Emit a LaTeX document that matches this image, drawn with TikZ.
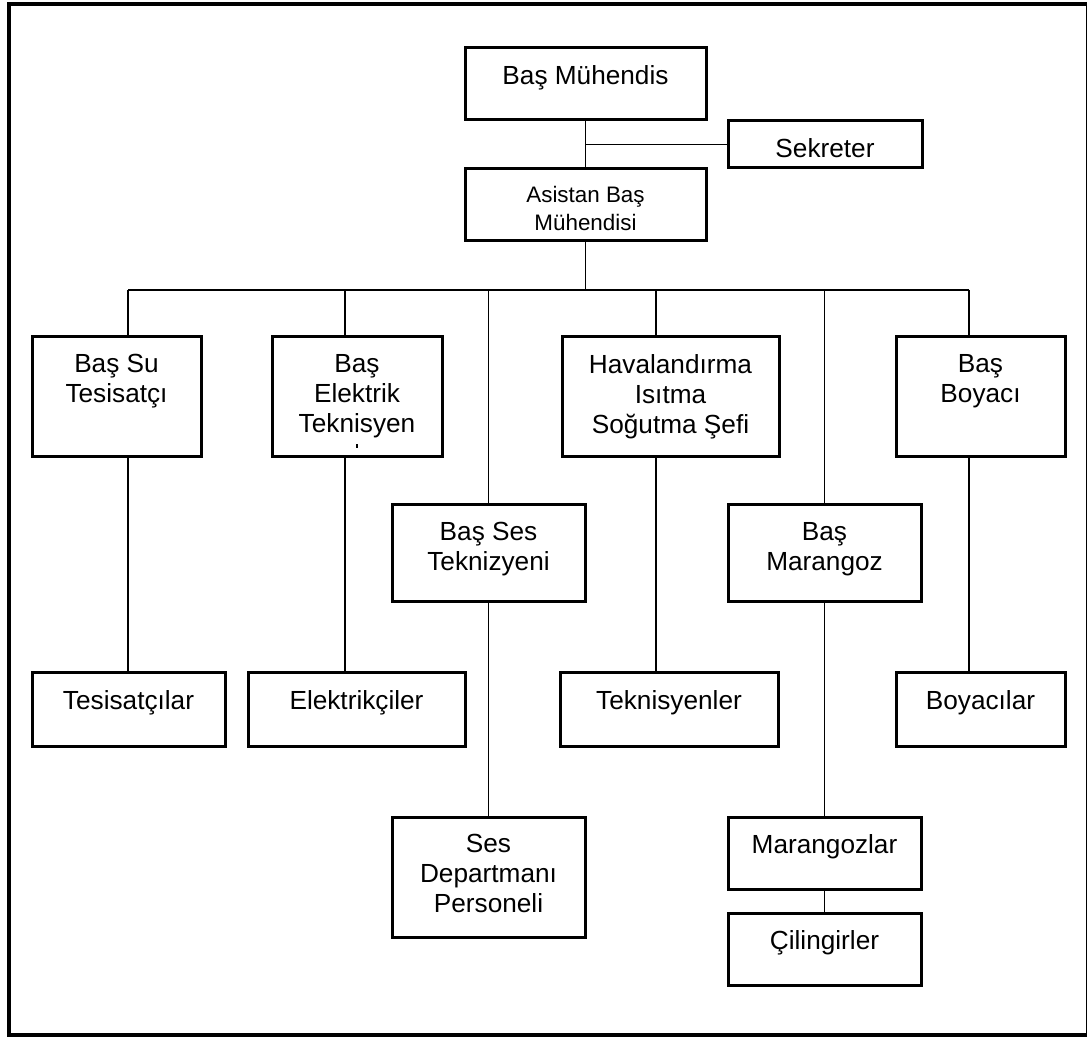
\documentclass[tikz,border=0pt]{standalone}
\usepackage{fontspec}
\setmainfont{Liberation Sans}
\tikzset{
  x=0.5pt, y=-0.5pt,
  box/.style={draw, line width=1.5pt, rectangle, inner sep=0pt},
  txt/.style={inner sep=0pt, align=center, font=\fontsize{13.1}{15}\selectfont},
  smalltxt/.style={inner sep=0pt, align=center, font=\fontsize{11.2}{13.7}\selectfont},
  conn/.style={line width=0.95pt},
  frame/.style={line width=2pt}
}
\newcommand{\orgbox}[7][txt]{%
  \node[box, minimum width={(#5-#3)*0.5pt}, minimum height={(#6-#4)*0.5pt}] (#2) at ({(#3+#5)/2},{(#4+#6)/2}) {};
  \node[#1, anchor=north] (#2-t) at ([yshift=-9.3pt]#2.north) {#7};
}
\begin{document}
\begin{tikzpicture}
\useasboundingbox (0,0) rectangle (1088,1037);
\fill[white] (0,0) rectangle (1088,1037);
% frame
\draw[frame] (1086.5,4) -- (9,4) -- (9,1035) -- (1086.5,1035);
\draw[line width=0.8pt] (1086.5,4) -- (1086.5,1035);
% boxes
\orgbox{bm}{465}{48}{706}{120}{Baş Mühendis}
\orgbox{sek}{728}{121}{922}{168}{Sekreter}
\orgbox[smalltxt]{asis}{465}{169}{706}{241}{Asistan Baş\\Mühendisi}
\orgbox{bsu}{32}{337}{201}{457}{Baş Su\\Tesisatçı}
\orgbox{bel}{272}{337}{442}{457}{Baş\\Elektrik\\Teknisyen}
\orgbox{bses}{392}{505}{585}{602}{Baş Ses\\Teknizyeni}
\orgbox{hav}{562}{337}{779}{457}{Havalandırma\\Isıtma\\Soğutma Şefi}
\orgbox{bmar}{728}{505}{921}{602}{Baş\\Marangoz}
\orgbox{bboy}{896}{337}{1065}{457}{Baş\\Boyacı}
\orgbox{tes}{32}{673}{225}{746}{Tesisatçılar}
\orgbox{elk}{248}{673}{465}{746}{Elektrikçiler}
\orgbox{tek}{560}{673}{778}{746}{Teknisyenler}
\orgbox{boy}{896}{673}{1065}{746}{Boyacılar}
\orgbox{sesd}{392}{817}{585}{937}{Ses\\Departmanı\\Personeli}
\orgbox{mar}{728}{817}{921}{889}{Marangozlar}
\orgbox{cil}{728}{913}{921}{985}{Çilingirler}
% clipped glyph fragment under "Teknisyen"
\fill (356,444) rectangle (358,448);
% connectors
\draw[conn] (bm.south) -- (asis.north);
\draw[conn] (bm.south |- sek.west) -- (sek.west);
\coordinate (xsu) at (128,290);
\coordinate (xel) at (345,290);
\coordinate (xses) at (488.5,290);
\coordinate (xhav) at (656,290);
\coordinate (xmar) at (824.5,290);
\coordinate (xboy) at (969,290);
\draw[conn] (asis.south) -- (asis.south |- xsu);
\draw[conn] (xsu) -- (xboy);
\draw[conn] (xsu) -- (xsu |- bsu.north);
\draw[conn] (xel) -- (xel |- bel.north);
\draw[conn] (xses) -- (xses |- bses.north);
\draw[conn] (xhav) -- (xhav |- hav.north);
\draw[conn] (xmar) -- (xmar |- bmar.north);
\draw[conn] (xboy) -- (xboy |- bboy.north);
\draw[conn] (bsu.south -| xsu) -- (tes.north -| xsu);
\draw[conn] (bel.south -| xel) -- (elk.north -| xel);
\draw[conn] (bses.south) -- (sesd.north);
\draw[conn] (hav.south -| xhav) -- (tek.north -| xhav);
\draw[conn] (bmar.south) -- (mar.north);
\draw[conn] (mar.south) -- (cil.north);
\draw[conn] (bboy.south -| xboy) -- (boy.north -| xboy);
\end{tikzpicture}
\end{document}
